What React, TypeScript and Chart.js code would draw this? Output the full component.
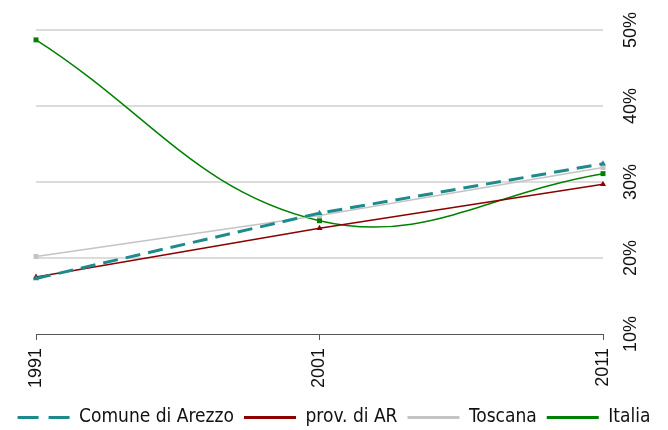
import React, { useEffect, useRef } from 'react';
import { Chart, registerables } from 'chart.js';

Chart.register(...registerables);

const years = ['1991', '2001', '2011'];
const seriesNames = ['Comune di Arezzo', 'prov. di AR', 'Toscana', 'Italia'];
const arezzo = [17.3, 25.9, 32.4];
const provAR = [17.5, 23.9, 29.7];
const toscana = [20.2, 25.6, 31.9];
const italia = [48.7, 24.9, 31.1];
const yTicks = [10, 20, 30, 40, 50];

const colors = ['#1f8a8c', '#8b0000', '#c4c4c4', '#008000'];

export default function App() {
  const ref = useRef<HTMLCanvasElement | null>(null);

  useEffect(() => {
    if (!ref.current) return;
    const tickFont = { family: "'Liberation Sans', Arial, sans-serif", size: 18 };
    const chart = new Chart(ref.current, {
      type: 'line',
      data: {
        labels: years,
        datasets: [
          {
            label: seriesNames[0],
            data: arezzo,
            yAxisID: 'y',
            borderColor: colors[0],
            backgroundColor: colors[0],
            borderWidth: 3,
            borderDash: [15, 8],
            pointStyle: 'triangle',
            pointRadius: 3.5,
            pointBorderWidth: 0,
            tension: 0,
          },
          {
            label: seriesNames[1],
            data: provAR,
            yAxisID: 'y',
            borderColor: colors[1],
            backgroundColor: colors[1],
            borderWidth: 1.5,
            pointStyle: 'triangle',
            pointRadius: 3.5,
            pointBorderWidth: 0,
            tension: 0,
          },
          {
            label: seriesNames[2],
            data: toscana,
            yAxisID: 'y',
            borderColor: colors[2],
            backgroundColor: colors[2],
            borderWidth: 1.5,
            pointStyle: 'rect',
            pointRadius: 3.5,
            pointBorderWidth: 0,
            tension: 0,
          },
          {
            label: seriesNames[3],
            data: italia,
            yAxisID: 'y',
            borderColor: colors[3],
            backgroundColor: colors[3],
            borderWidth: 1.5,
            pointStyle: 'rect',
            pointRadius: 3.5,
            pointBorderWidth: 0,
            tension: 0.4,
          },
        ],
      },
      options: {
        responsive: false,
        animation: false,
        layout: { padding: { left: 0, top: 30, right: 0, bottom: -7 } },
        plugins: {
          tooltip: { enabled: false },
          legend: {
            position: 'bottom',
            labels: {
              usePointStyle: true,
              pointStyleWidth: 52,
              padding: 10,
              color: '#111',
              font: { family: "'DejaVu Sans Condensed', 'Liberation Sans', sans-serif", size: 19 },
              generateLabels: (c: any) => {
                const items = Chart.defaults.plugins.legend.labels.generateLabels(c);
                return items.map((it: any, i: number) => ({
                  ...it,
                  pointStyle: 'line',
                  lineWidth: 3,
                  lineDash: i === 0 ? [21, 10] : [],
                  strokeStyle: colors[i],
                  fillStyle: colors[i],
                }));
              },
            },
          },
        },
        scales: {
          x: {
            offset: false,
            grid: {
              drawOnChartArea: false,
              drawTicks: true,
              tickLength: 6,
              color: '#555',
              lineWidth: 1,
            },
            border: { display: true, color: '#555', width: 1 },
            ticks: {
              minRotation: 90,
              maxRotation: 90,
              autoSkip: false,
              padding: 8,
              color: '#111',
              font: tickFont,
            },
            afterFit: (s: any) => {
              s.height = 64;
            },
          },
          yLeft: {
            type: 'linear',
            position: 'left',
            display: true,
            min: 10,
            max: 50,
            grid: { display: false, drawTicks: false },
            border: { display: false },
            ticks: { display: false },
            afterFit: (s: any) => {
              s.width = 36;
            },
          },
          y: {
            position: 'right',
            min: 10,
            max: 50,
            afterBuildTicks: (s: any) => {
              s.ticks = yTicks.map((v) => ({ value: v }));
            },
            grid: {
              color: (ctx: any) => (ctx.tick && ctx.tick.value === 10 ? 'rgba(0,0,0,0)' : '#dcdcdc'),
              lineWidth: 2,
              drawTicks: false,
            },
            border: { display: false },
            ticks: {
              minRotation: 90,
              maxRotation: 90,
              crossAlign: 'center',
              padding: 10,
              color: '#111',
              font: tickFont,
              callback: (v: any) => v + '%',
            },
            afterFit: (s: any) => {
              s.width = 65;
            },
          },
        },
      },
    });
    return () => chart.destroy();
  }, []);

  return (
    <div style={{ position: 'absolute', left: 0, top: 0, width: 668, height: 430, background: '#fff' }}>
      <canvas ref={ref} width={668} height={430} />
    </div>
  );
}
